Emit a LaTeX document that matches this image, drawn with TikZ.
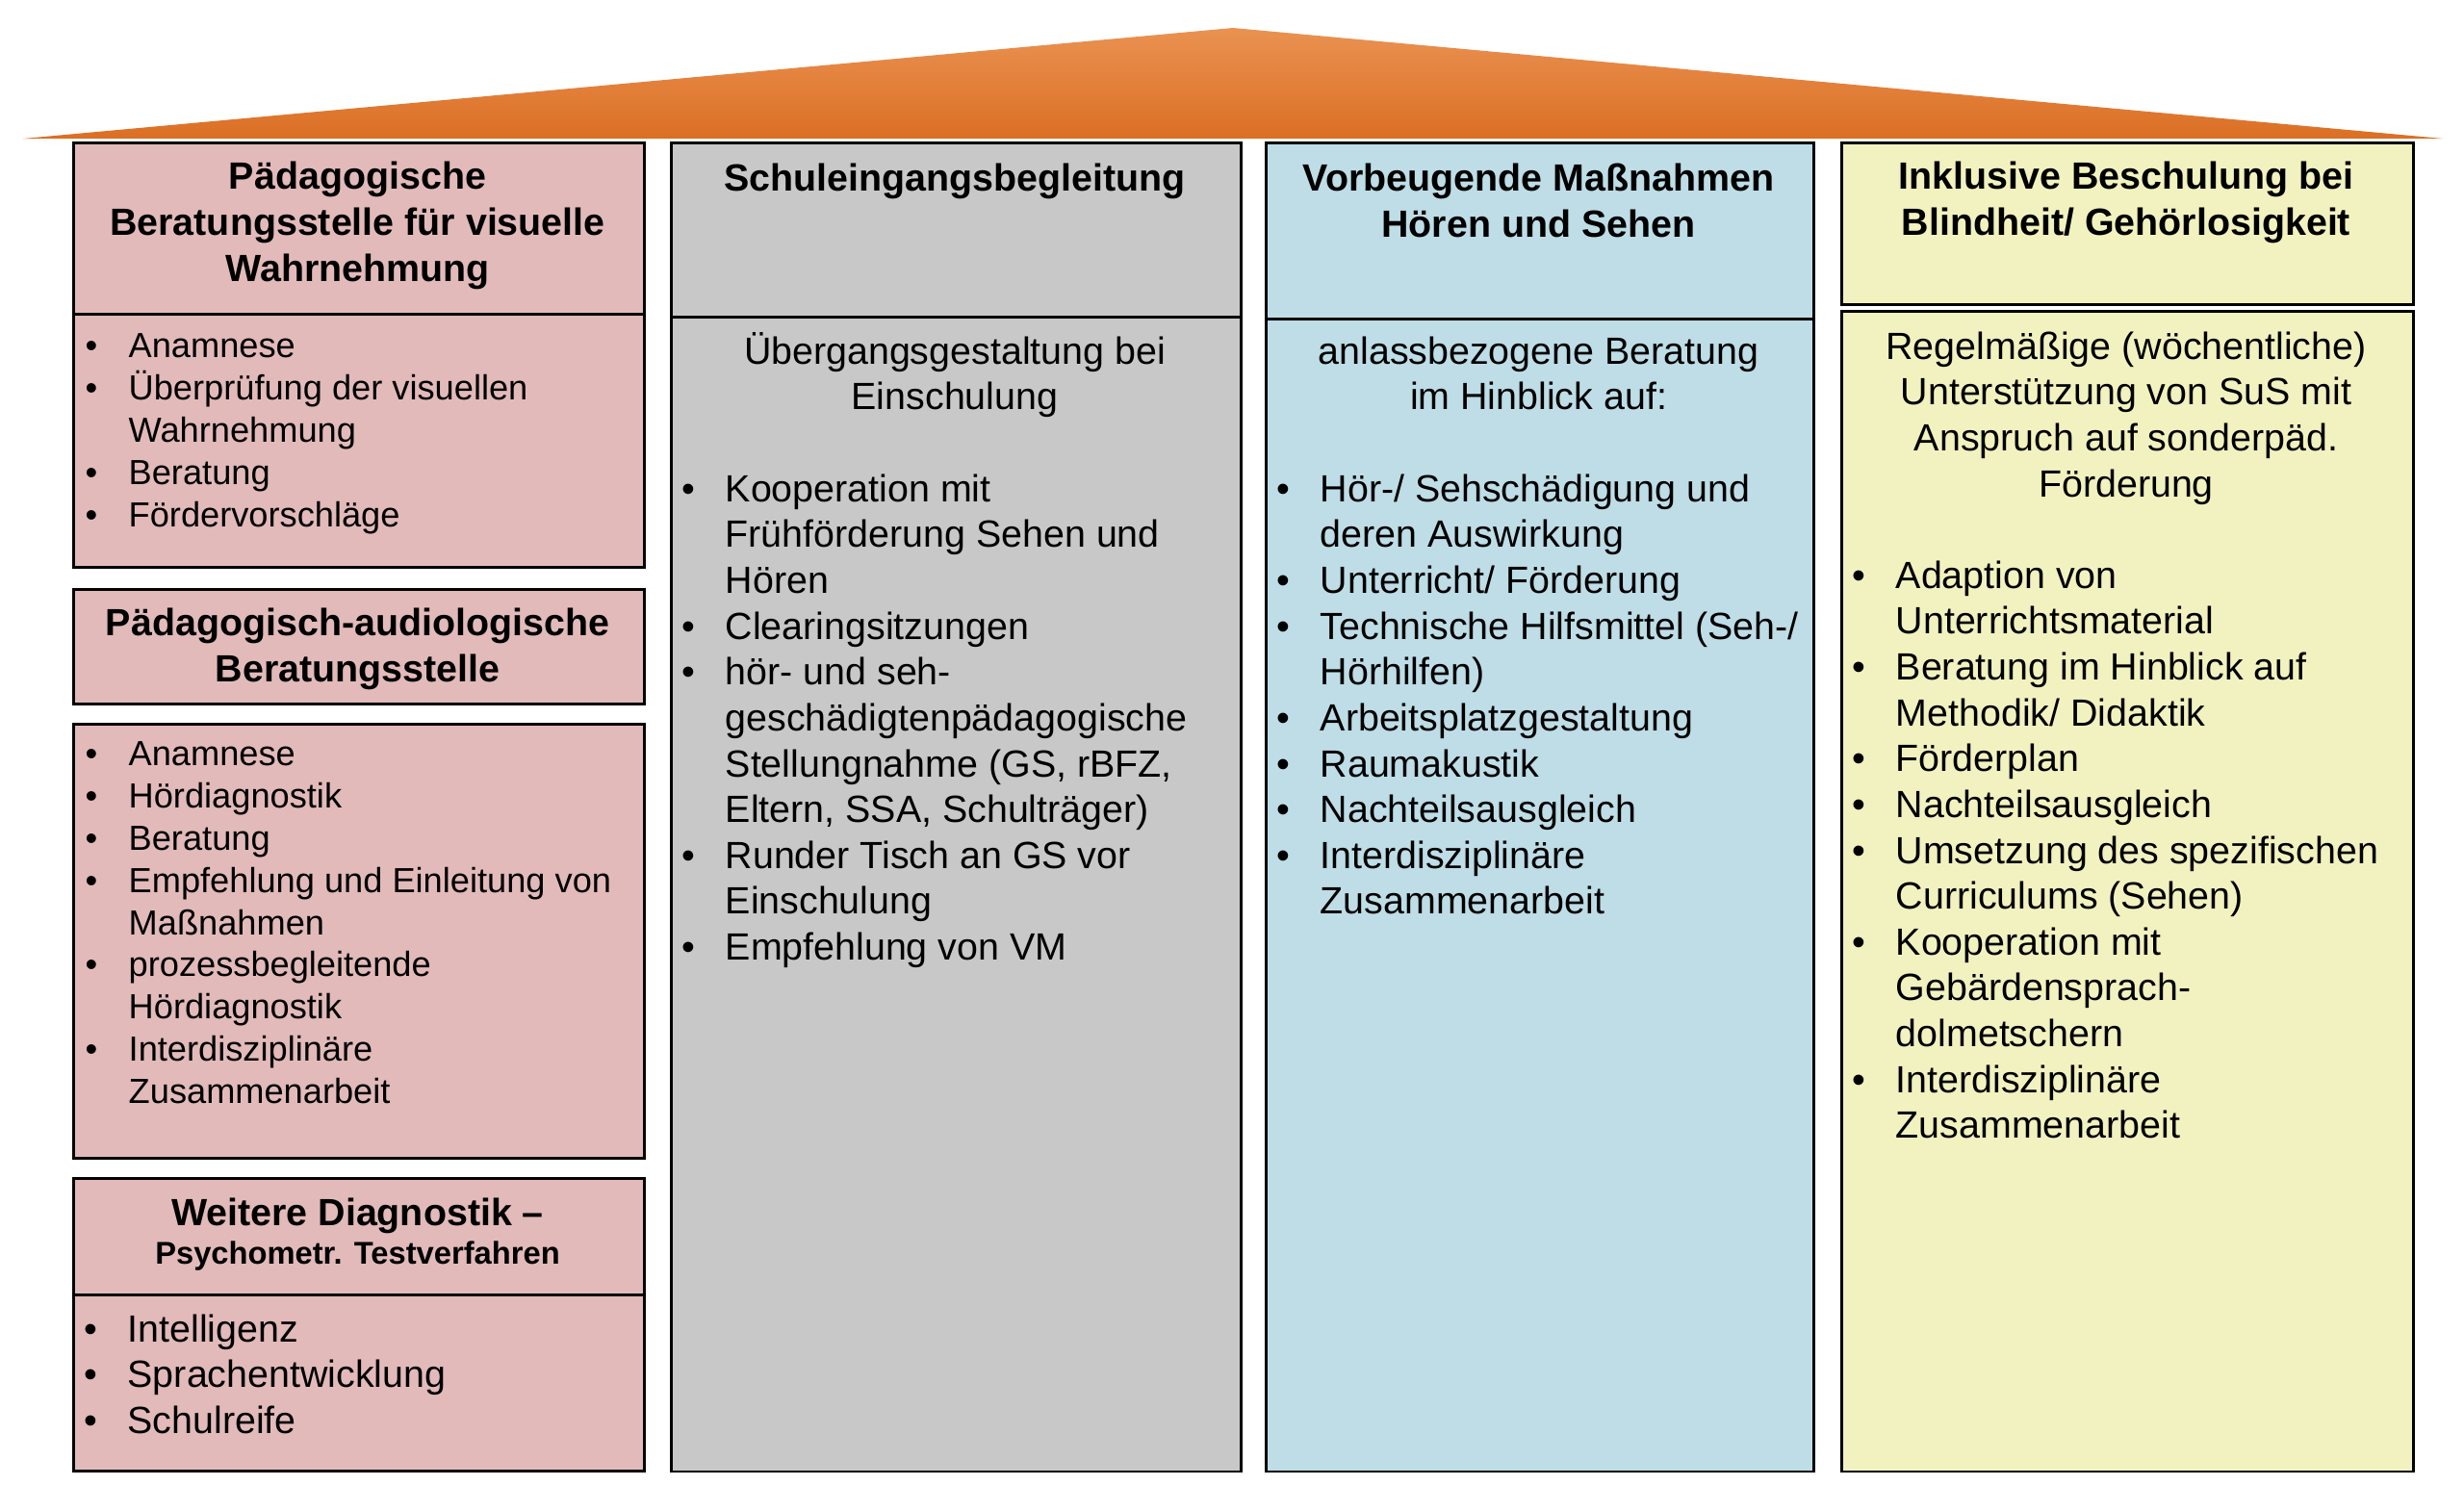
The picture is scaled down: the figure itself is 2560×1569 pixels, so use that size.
\documentclass[tikz,border=0pt]{standalone}
\usepackage{fontspec}
\setmainfont{Liberation Sans}
\definecolor{hpink}{RGB}{226,186,186}
\definecolor{hgray}{RGB}{200,200,200}
\definecolor{hblue}{RGB}{190,221,230}
\definecolor{hyellow}{RGB}{242,242,192}
\definecolor{rooftop}{RGB}{234,146,82}
\definecolor{roofbot}{RGB}{219,111,36}
\newcommand{\bul}{\makebox[4.5mm][l]{\textbullet}}
\newcommand{\ind}{\hspace*{4.5mm}}
\newcommand{\fst}{\rule{0pt}{1em}}
\begin{document}
\begin{tikzpicture}[x=0.01cm,y=-0.01cm,
  box/.style={draw=black,line width=0.75pt,anchor=north west,inner sep=0pt},
  hdr/.style={anchor=north,align=center,inner sep=0pt,font=\fontsize{11.2}{13.65}\selectfont\bfseries},
  txt/.style={anchor=north,align=center,inner sep=0pt,font=\fontsize{11.2}{13.55}\selectfont},
  lst/.style={anchor=north west,align=left,inner sep=0pt,font=\fontsize{11.2}{13.55}\selectfont},
  lsts/.style={lst,font=\fontsize{10.3}{12.45}\selectfont}]
  \useasboundingbox (0,0) rectangle (2560,1569);
  % roof
  \shade[top color=rooftop,bottom color=roofbot] (24,144) -- (1281,29) -- (2538,144) -- cycle;
  % column 1
  \node[box,fill=hpink,minimum width=5.93cm,minimum height=1.78cm] (v1h) at (75,147) {};
  \node[box,fill=hpink,minimum width=5.93cm,minimum height=2.63cm] (v1b) at (75,325) {};
  \node[box,fill=hpink,minimum width=5.93cm,minimum height=1.19cm] (a2h) at (75,611) {};
  \node[box,fill=hpink,minimum width=5.93cm,minimum height=4.51cm] (a2b) at (75,751) {};
  \node[box,fill=hpink,minimum width=5.93cm,minimum height=1.21cm] (d3h) at (75,1223) {};
  \node[box,fill=hpink,minimum width=5.93cm,minimum height=1.83cm] (d3b) at (75,1344) {};
  \node[hdr] (v1t) at (371.5,156) {\fst Pädagogische\\Beratungsstelle für visuelle\\Wahrnehmung};
  \node[lsts] (v1l) at (88,335) {\fst\bul Anamnese\\\bul Überprüfung der visuellen\\\ind Wahrnehmung\\\bul Beratung\\\bul Fördervorschläge};
  \node[hdr] (a2t) at (371.5,620) {\fst Pädagogisch-audiologische\\Beratungsstelle};
  \node[lsts] (a2l) at (88,759) {\fst\bul Anamnese\\\bul Hördiagnostik\\\bul Beratung\\\bul Empfehlung und Einleitung von\\\ind Maßnahmen\\\bul prozessbegleitende\\\ind Hördiagnostik\\\bul Interdisziplinäre\\\ind Zusammenarbeit};
  \node[hdr] (d3t) at (371.5,1233) {\fst Weitere Diagnostik –};
  \node[hdr,font=\fontsize{9.3}{11}\selectfont\bfseries] (d3s) at (371.5,1280) {\fst Psychometr. Testverfahren};
  \node[lst] (d3l) at (87,1354) {\fst\bul Intelligenz\\\bul Sprachentwicklung\\\bul Schulreife};
  % column 2
  \node[box,fill=hgray,minimum width=5.92cm,minimum height=1.81cm] (s1h) at (696,147) {};
  \node[box,fill=hgray,minimum width=5.92cm,minimum height=11.99cm] (s1b) at (696,328) {};
  \node[hdr] (s1t) at (992,158) {\fst Schuleingangsbegleitung};
  \node[txt] (s1i) at (992,338) {\fst Übergangsgestaltung bei\\Einschulung};
  \node[lst] (s1l) at (708,481) {\fst\bul Kooperation mit\\\ind Frühförderung Sehen und\\\ind Hören\\\bul Clearingsitzungen\\\bul hör- und seh-\\\ind geschädigtenpädagogische\\\ind Stellungnahme (GS, rBFZ,\\\ind Eltern, SSA, Schulträger)\\\bul Runder Tisch an GS vor\\\ind Einschulung\\\bul Empfehlung von VM};
  % column 3
  \node[box,fill=hblue,minimum width=5.69cm,minimum height=1.83cm] (m1h) at (1314,147) {};
  \node[box,fill=hblue,minimum width=5.69cm,minimum height=11.97cm] (m1b) at (1314,330) {};
  \node[hdr] (m1t) at (1598.5,158) {\fst Vorbeugende Maßnahmen\\Hören und Sehen};
  \node[txt] (m1i) at (1598.5,338) {\fst anlassbezogene Beratung\\im Hinblick auf:};
  \node[lst] (m1l) at (1326,481) {\fst\bul Hör-/ Sehschädigung und\\\ind deren Auswirkung\\\bul Unterricht/ Förderung\\\bul Technische Hilfsmittel (Seh-/\\\ind Hörhilfen)\\\bul Arbeitsplatzgestaltung\\\bul Raumakustik\\\bul Nachteilsausgleich\\\bul Interdisziplinäre\\\ind Zusammenarbeit};
  % column 4
  \node[box,fill=hyellow,minimum width=5.94cm,minimum height=1.68cm] (b1h) at (1912,147) {};
  \node[box,fill=hyellow,minimum width=5.94cm,minimum height=12.05cm] (b1b) at (1912,322) {};
  \node[hdr] (b1t) at (2209,156) {\fst Inklusive Beschulung bei\\Blindheit/ Gehörlosigkeit};
  \node[txt] (b1i) at (2209,333) {\fst Regelmäßige (wöchentliche)\\Unterstützung von SuS mit\\Anspruch auf sonderpäd.\\Förderung};
  \node[lst] (b1l) at (1924,571) {\fst\bul Adaption von\\\ind Unterrichtsmaterial\\\bul Beratung im Hinblick auf\\\ind Methodik/ Didaktik\\\bul Förderplan\\\bul Nachteilsausgleich\\\bul Umsetzung des spezifischen\\\ind Curriculums (Sehen)\\\bul Kooperation mit\\\ind Gebärdensprach-\\\ind dolmetschern\\\bul Interdisziplinäre\\\ind Zusammenarbeit};
\end{tikzpicture}
\end{document}
